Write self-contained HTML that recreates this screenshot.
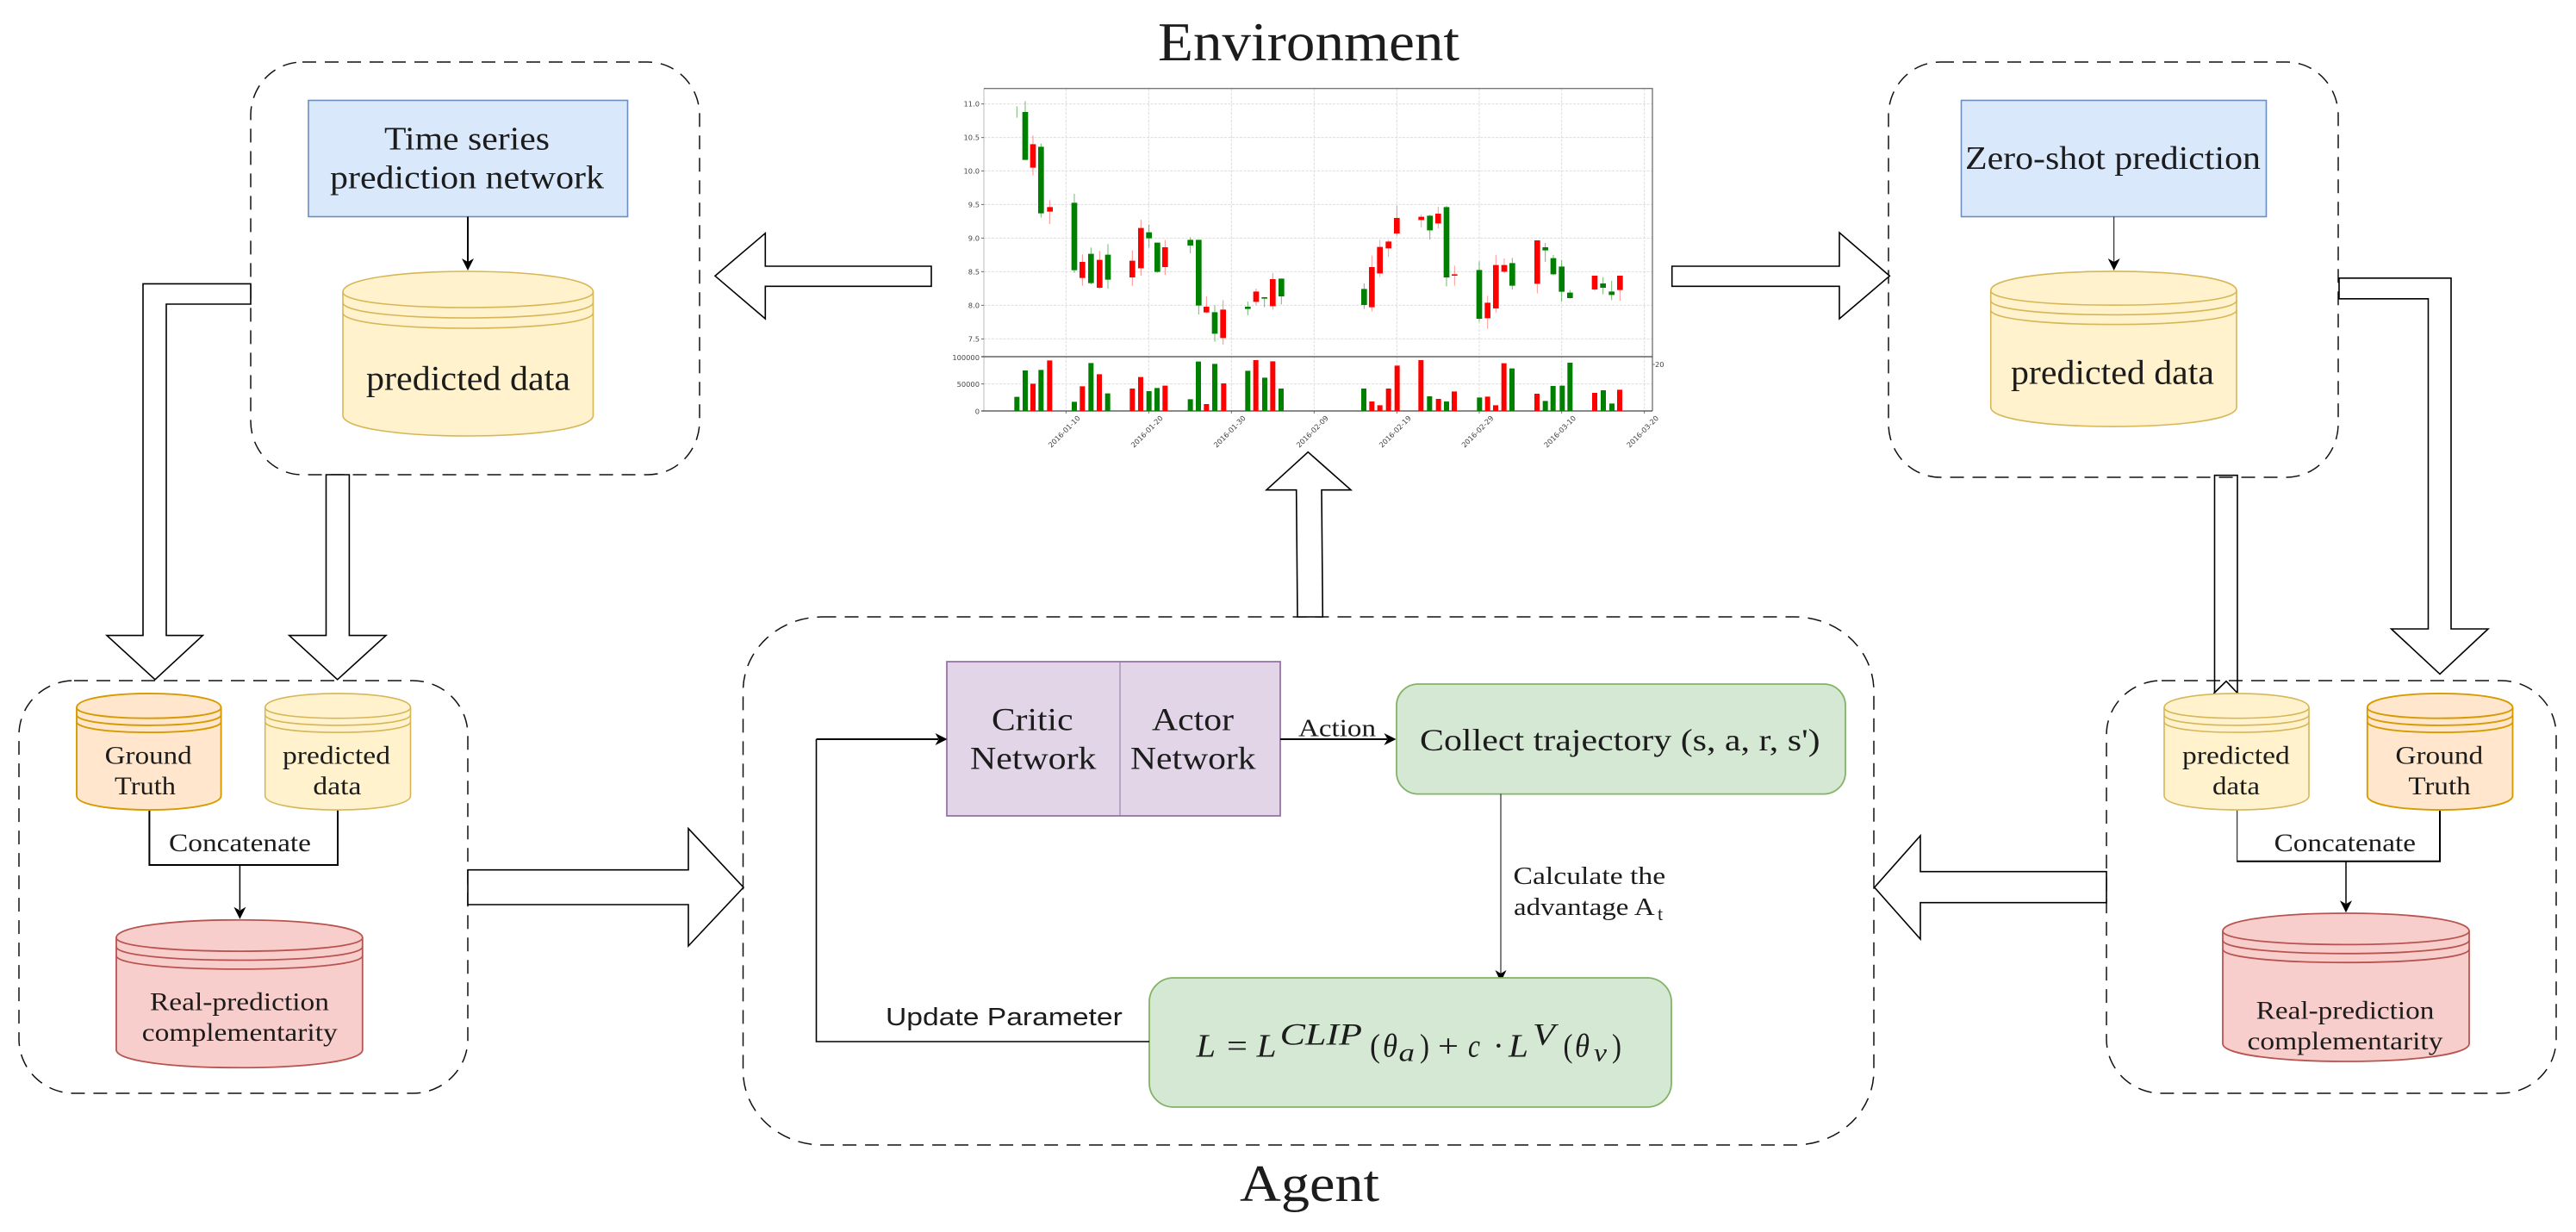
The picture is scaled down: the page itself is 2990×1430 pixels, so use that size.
<!DOCTYPE html>
<html lang="en">
<head>
<meta charset="utf-8">
<title>Environment and Agent diagram</title>
<style>
html,body{margin:0;padding:0;background:#fff;width:2990px;height:1430px;overflow:hidden}
svg{display:block}
text{font-family:"Liberation Serif",serif;fill:#1c1c1c}
.dash{fill:none;stroke:#111;stroke-width:1.5;stroke-dasharray:16 10}
.hol{fill:#fff;stroke:#000;stroke-width:1.6;stroke-linejoin:miter}
.ln{fill:none;stroke:#000;stroke-width:2}
.thin{fill:none;stroke:#000;stroke-width:1}
.yel path{fill:#fff2cc;stroke:#d6b656;stroke-width:1.6}
.org path{fill:#ffe6cc;stroke:#d79b00;stroke-width:1.9}
.red path{fill:#f8cecc;stroke:#b85450;stroke-width:1.8}
.rim{fill:none !important}
.tick{font-family:"DejaVu Sans",sans-serif;font-size:8.3px;fill:#444}
.grid{stroke:#d9d9d9;stroke-width:.9;stroke-dasharray:3 1.5;fill:none}
</style>
</head>
<body>
<svg width="2990" height="1430" viewBox="0 0 2990 1430" xmlns="http://www.w3.org/2000/svg">
<rect width="2990" height="1430" fill="#fff"/>

<!-- Dashed containers -->
<rect class="dash" x="291" y="72" width="521" height="479" rx="60" ry="62"/>
<rect class="dash" x="2192" y="72" width="522" height="482" rx="60" ry="62"/>
<rect class="dash" x="22" y="790" width="521" height="479" rx="64" ry="63"/>
<rect class="dash" x="2445" y="790" width="522" height="479" rx="64" ry="63"/>
<rect class="dash" x="862.5" y="716" width="1312.5" height="613" rx="92" ry="86"/>

<!-- Titles -->
<text x="1344" y="70" font-size="64" textLength="350" lengthAdjust="spacingAndGlyphs">Environment</text>
<text x="1439" y="1394" font-size="60" textLength="162" lengthAdjust="spacingAndGlyphs">Agent</text>

<!-- Chart -->
<g>
<path class="grid" d="M1142 120.7H1918M1142 159.7H1918M1142 198.3H1918M1142 237.3H1918M1142 276.3H1918M1142 315.3H1918M1142 354.3H1918M1142 393.3H1918M1142 445.7H1918"/>
<path class="grid" d="M1237.3 103V477M1333.3 103V477M1429.3 103V477M1525.3 103V477M1621.3 103V477M1717 103V477M1812.7 103V477M1908.7 103V477"/>
<path d="M1142 103V477" stroke="#bbb" stroke-width="1" fill="none"/>
<path d="M1142 102.7H1918V477" stroke="#777" stroke-width="1.4" fill="none"/>
<path d="M1139 414H1918" stroke="#444" stroke-width="1.2" fill="none"/>
<path d="M1139 477H1918" stroke="#444" stroke-width="1.2" fill="none"/>
<path d="M1139 120.7h3M1139 159.7h3M1139 198.3h3M1139 237.3h3M1139 276.3h3M1139 315.3h3M1139 354.3h3M1139 393.3h3M1139 445.7h3M1237.3 477v3M1333.3 477v3M1429.3 477v3M1525.3 477v3M1621.3 477v3M1717 477v3M1812.7 477v3M1908.7 477v3M1918 423h3" stroke="#555" stroke-width=".8" fill="none"/>

<g transform="translate(1100 90) scale(.33333)" fill="none">
<path stroke="#008000" stroke-width="3" opacity=".55" d="M241 100V140M270 82V120M325 230V488M441 405V680M499 592V720M558 580V735M701 512V593M730 575V680M845 556V612M874 565V825M930 793V920M1045 780V828M1103 765V800M1162 700V790"/>
<path stroke="#ff0000" stroke-width="3" opacity=".45" d="M297 202V340M355 427V510M469 616V725M529 604V735M643 602V725M673 495V690M757 566V687M901 762V820M959 775V930M1074 735V792M1132 681V808"/>
<path stroke="#008000" stroke-width="20" d="M270 120V287M325 241V473M441 436V671M499 614V716M558 617V704M701 539V560M730 575V677M845 565V585M874 565V794M930 817V892M1045 798V806M1103 765V770M1162 700V762"/>
<path stroke="#ff0000" stroke-width="20" d="M297 232V314M356 451V467M469 642V698M529 635V732M643 638V696M673 524V664M757 591V660M901 798V818M959 808V907M1074 745V781M1132 702V796"/>
<path stroke="#008000" stroke-width="18" d="M241 1162V1112M270 1162V1020M325 1162V1018M441 1162V1129M499 1162V994M557 1162V1100M701 1162V1092M729 1162V1081M845 1162V1120M873 1162V989M930 1162V997M1045 1162V1021M1104 1162V1045M1161 1162V1083"/>
<path stroke="#ff0000" stroke-width="18" d="M297 1162V1066M355 1162V985M469 1162V1075M528 1162V1033M643 1162V1083M672 1162V1043M757 1162V1073M901 1162V1137M961 1162V1065M1073 1162V984M1132 1162V988"/>
</g>
<g transform="translate(1500 90) scale(.33333)" fill="none">
<path stroke="#008000" stroke-width="3" opacity=".55" d="M250 717V806M479 478V564M537 447V727M651 640V850M766 628V738M881 576V642M909 618V688M938 636V780M967 740V770M1082 695V755M1112 708V775"/>
<path stroke="#ff0000" stroke-width="3" opacity=".4" d="M277 620V815M305 565V695M335 565V625M364 447V552M449 477V522M508 450V525M565 655V725M680 760V875M709 618V818M738 630V682M853 567V752M1053 690V743M1141 690V777"/>
<path stroke="#008000" stroke-width="20" d="M250 736V792M479 481V532M537 451V696M651 670V840M766 646V725M881 591V602M909 629V685M938 658V746M967 749V768M1082 717V732M1112 745V757"/>
<path stroke="#ff0000" stroke-width="20" d="M277 660V800M305 590V682M335 571V595M364 489V543M449 485V496M508 474V508M565 685V690M680 784V838M709 653V804M738 653V676M853 567V718M1053 690V738M1141 690V740"/>
<path stroke="#008000" stroke-width="18" d="M249 1162V1083M478 1162V1110M537 1162V1128M652 1162V1114M765 1162V1013M881 1162V1126M908 1162V1074M940 1162V1073M967 1162V993M1083 1162V1089M1113 1162V1135"/>
<path stroke="#ff0000" stroke-width="18" d="M277 1162V1128M305 1162V1141M335 1162V1083M365 1162V1003M448 1162V984M509 1162V1119M564 1162V1093M680 1162V1111M708 1162V1141M737 1162V995M852 1162V1101M1053 1162V1098M1140 1162V1087"/>
</g>

<g text-anchor="end">
<text class="tick" x="1137" y="123.7">11.0</text>
<text class="tick" x="1137" y="162.7">10.5</text>
<text class="tick" x="1137" y="201.3">10.0</text>
<text class="tick" x="1137" y="240.3">9.5</text>
<text class="tick" x="1137" y="279.3">9.0</text>
<text class="tick" x="1137" y="318.3">8.5</text>
<text class="tick" x="1137" y="357.3">8.0</text>
<text class="tick" x="1137" y="396.3">7.5</text>
<text class="tick" x="1137" y="418">100000</text>
<text class="tick" x="1137" y="449">50000</text>
<text class="tick" x="1137" y="480.5">0</text>
</g>
<text class="tick" x="1921" y="426">20</text>
<g text-anchor="middle">
<text class="tick" transform="translate(1237.3 503) rotate(-45)">2016-01-10</text>
<text class="tick" transform="translate(1333.3 503) rotate(-45)">2016-01-20</text>
<text class="tick" transform="translate(1429.3 503) rotate(-45)">2016-01-30</text>
<text class="tick" transform="translate(1525.3 503) rotate(-45)">2016-02-09</text>
<text class="tick" transform="translate(1621.3 503) rotate(-45)">2016-02-19</text>
<text class="tick" transform="translate(1717 503) rotate(-45)">2016-02-29</text>
<text class="tick" transform="translate(1812.7 503) rotate(-45)">2016-03-10</text>
<text class="tick" transform="translate(1908.7 503) rotate(-45)">2016-03-20</text>
</g>
</g>

<!-- Hollow block arrows -->
<polygon class="hol" points="1081,309 888.3,309 888.3,270.7 830,320.3 888.3,370 888.3,332.3 1081,332.3"/>
<polygon class="hol" points="1940.7,309 2135,309 2135,270 2193.3,320.3 2135,370 2135,332.3 1940.7,332.3"/>
<polygon class="hol" points="1506,716 1504.7,568.7 1470,568.7 1518.3,524.7 1568,568.7 1534,568.7 1535.3,716"/>
<polygon class="hol" points="291,329.4 166,329.4 166,737.6 124,737.6 180,788.8 235.3,737.6 193,737.6 193,353 291,353"/>
<polygon class="hol" points="378.5,551 378.5,737.6 335.7,737.6 391.7,788.8 448,737.6 405.4,737.6 405.4,551"/>
<polygon class="hol" points="2715,322.8 2845,322.8 2845,730 2888,730 2832,782.4 2775.6,730 2818.5,730 2818.5,346.8 2715,346.8"/>
<polygon class="hol" points="543,1009.7 799,1009.7 799,961.7 863,1030 799,1098 799,1050 543,1050"/>
<polygon class="hol" points="2445,1011.7 2229,1011.7 2229,970 2175.7,1030 2229,1090 2229,1047.7 2445,1047.7"/>
<path class="hol" d="M2570.5 805V551.7H2597V805" style="fill:none"/>
<path class="hol" d="M2569.4 805L2584 790.7L2597.5 805" style="fill:none"/>

<!-- Top-left block -->
<rect x="358" y="116.5" width="370.5" height="135" fill="#dae8fc" stroke="#6c8ebf" stroke-width="1.6"/>
<text x="446" y="173.6" font-size="38" textLength="192" lengthAdjust="spacingAndGlyphs">Time series</text>
<text x="383" y="218.5" font-size="38" textLength="318" lengthAdjust="spacingAndGlyphs">prediction network</text>
<path class="ln" d="M543 251.5V304"/>
<polygon points="543,314 536,300 543,304 550,300" fill="#000"/>
<g class="yel">
<path d="M398 339C398 307 688.5 307 688.5 339L688.5 482C688.5 514 398 514 398 482Z"/>
<path class="rim" d="M398 339C398 363 688.5 363 688.5 339M398 351C398 375 688.5 375 688.5 351M398 363C398 387 688.5 387 688.5 363"/>
</g>
<text x="425" y="452.5" font-size="40" textLength="237" lengthAdjust="spacingAndGlyphs">predicted data</text>

<!-- Top-right block -->
<rect x="2276.5" y="116.5" width="354" height="135" fill="#dae8fc" stroke="#6c8ebf" stroke-width="1.6"/>
<text x="2281" y="196" font-size="38" textLength="343" lengthAdjust="spacingAndGlyphs">Zero-shot prediction</text>
<path class="thin" d="M2453.7 251.5V304"/>
<polygon points="2453.7,314 2446.7,300 2453.7,304 2460.7,300" fill="#000"/>
<g class="yel">
<path d="M2310.7 337.4C2310.7 307.5 2596 307.5 2596 337.4L2596 472.6C2596 502.5 2310.7 502.5 2310.7 472.6Z"/>
<path class="rim" d="M2310.7 337.4C2310.7 359.8 2596 359.8 2596 337.4M2310.7 348.6C2310.7 371 2596 371 2596 348.6M2310.7 359.8C2310.7 382.2 2596 382.2 2596 359.8"/>
</g>
<text x="2334" y="445.5" font-size="40" textLength="236" lengthAdjust="spacingAndGlyphs">predicted data</text>

<!-- Bottom-left block -->
<path class="ln" d="M173.4 940V1004H392V940"/>
<path class="ln" style="stroke-width:1.5" d="M278.4 1004V1056"/>
<polygon points="278.4,1066.7 271.4,1052.7 278.4,1056.7 285.4,1052.7" fill="#000"/>
<g class="org">
<path d="M89 821.4C89 799.5 256.6 799.5 256.6 821.4L256.6 923.6C256.6 945.5 89 945.5 89 923.6Z"/>
<path class="rim" d="M89 821.4C89 837.8 256.6 837.8 256.6 821.4M89 829.6C89 846 256.6 846 256.6 829.6M89 837.8C89 854.2 256.6 854.2 256.6 837.8"/>
</g>
<g class="yel">
<path d="M307.7 821.4C307.7 799.5 476.5 799.5 476.5 821.4L476.5 923.6C476.5 945.5 307.7 945.5 307.7 923.6Z"/>
<path class="rim" d="M307.7 821.4C307.7 837.8 476.5 837.8 476.5 821.4M307.7 829.6C307.7 846 476.5 846 476.5 829.6M307.7 837.8C307.7 854.2 476.5 854.2 476.5 837.8"/>
</g>
<g class="red">
<path d="M135 1088.5C135 1060.8 420.8 1060.8 420.8 1088.5L420.8 1218.5C420.8 1246.2 135 1246.2 135 1218.5Z"/>
<path class="rim" d="M135 1088.5C135 1109.3 420.8 1109.3 420.8 1088.5M135 1098.9C135 1119.7 420.8 1119.7 420.8 1098.9M135 1109.3C135 1130.1 420.8 1130.1 420.8 1109.3"/>
</g>
<text x="121.7" y="886.7" font-size="30" textLength="101" lengthAdjust="spacingAndGlyphs">Ground</text>
<text x="133" y="922" font-size="30" textLength="71" lengthAdjust="spacingAndGlyphs">Truth</text>
<text x="328" y="886.7" font-size="30" textLength="125" lengthAdjust="spacingAndGlyphs">predicted</text>
<text x="363.4" y="922" font-size="30" textLength="56" lengthAdjust="spacingAndGlyphs">data</text>
<text x="196" y="988" font-size="30" textLength="165" lengthAdjust="spacingAndGlyphs">Concatenate</text>
<text x="174" y="1172.7" font-size="30" textLength="208" lengthAdjust="spacingAndGlyphs">Real-prediction</text>
<text x="164.8" y="1208" font-size="30" textLength="227" lengthAdjust="spacingAndGlyphs">complementarity</text>

<!-- Bottom-right block -->
<path class="thin" d="M2596.7 940V999.7"/>
<path class="ln" d="M2596.2 999.7H2832V940"/>
<path class="ln" style="stroke-width:1.5" d="M2723 1000V1049"/>
<polygon points="2723,1059.3 2716,1045.3 2723,1049.3 2730,1045.3" fill="#000"/>
<g class="yel">
<path d="M2512 821.4C2512 799.5 2680 799.5 2680 821.4L2680 923.6C2680 945.5 2512 945.5 2512 923.6Z"/>
<path class="rim" d="M2512 821.4C2512 837.8 2680 837.8 2680 821.4M2512 829.6C2512 846 2680 846 2680 829.6M2512 837.8C2512 854.2 2680 854.2 2680 837.8"/>
</g>
<g class="org">
<path d="M2747.8 821.4C2747.8 799.5 2916.5 799.5 2916.5 821.4L2916.5 923.6C2916.5 945.5 2747.8 945.5 2747.8 923.6Z"/>
<path class="rim" d="M2747.8 821.4C2747.8 837.8 2916.5 837.8 2916.5 821.4M2747.8 829.6C2747.8 846 2916.5 846 2916.5 829.6M2747.8 837.8C2747.8 854.2 2916.5 854.2 2916.5 837.8"/>
</g>
<g class="red">
<path d="M2580 1080.8C2580 1053.1 2866 1053.1 2866 1080.8L2866 1211.2C2866 1238.9 2580 1238.9 2580 1211.2Z"/>
<path class="rim" d="M2580 1080.8C2580 1101.6 2866 1101.6 2866 1080.8M2580 1091.2C2580 1112 2866 1112 2866 1091.2M2580 1101.6C2580 1122.4 2866 1122.4 2866 1101.6"/>
</g>
<text x="2533" y="886.7" font-size="30" textLength="124.8" lengthAdjust="spacingAndGlyphs">predicted</text>
<text x="2568" y="922" font-size="30" textLength="55" lengthAdjust="spacingAndGlyphs">data</text>
<text x="2780.4" y="886.7" font-size="30" textLength="101.8" lengthAdjust="spacingAndGlyphs">Ground</text>
<text x="2795.4" y="922" font-size="30" textLength="72.3" lengthAdjust="spacingAndGlyphs">Truth</text>
<text x="2639.6" y="988" font-size="30" textLength="164.4" lengthAdjust="spacingAndGlyphs">Concatenate</text>
<text x="2618.7" y="1182.7" font-size="30" textLength="206.7" lengthAdjust="spacingAndGlyphs">Real-prediction</text>
<text x="2608.5" y="1218" font-size="30" textLength="227" lengthAdjust="spacingAndGlyphs">complementarity</text>

<!-- Agent internals -->
<rect x="1099" y="768" width="387" height="179" fill="#e1d5e7" stroke="#9673a6" stroke-width="1.8"/>
<path d="M1300 768V947" stroke="#9673a6" stroke-width="1" fill="none"/>
<text x="1151" y="847.6" font-size="37" textLength="94.5" lengthAdjust="spacingAndGlyphs">Critic</text>
<text x="1126" y="892.7" font-size="37" textLength="146.5" lengthAdjust="spacingAndGlyphs">Network</text>
<text x="1337" y="847.6" font-size="37" textLength="95" lengthAdjust="spacingAndGlyphs">Actor</text>
<text x="1312" y="892.7" font-size="37" textLength="145.6" lengthAdjust="spacingAndGlyphs">Network</text>

<path class="ln" d="M1486 858H1610"/>
<polygon points="1620.5,858 1606.5,851 1610.5,858 1606.5,865" fill="#000"/>
<text x="1507" y="854.6" font-size="29" textLength="90" lengthAdjust="spacingAndGlyphs">Action</text>

<rect x="1621" y="794" width="521" height="127.6" rx="25" ry="25" fill="#d5e8d4" stroke="#82b366" stroke-width="1.8"/>
<text x="1648" y="871" font-size="36" textLength="464.6" lengthAdjust="spacingAndGlyphs">Collect trajectory (s, a, r, s')</text>

<path class="thin" d="M1742 921.6V1130"/>
<polygon points="1742,1140 1735.5,1126 1742,1130 1748.5,1126" fill="#000"/>
<text x="1756.5" y="1026" font-size="29" textLength="176.7" lengthAdjust="spacingAndGlyphs" fill="#333">Calculate the</text>
<text x="1757" y="1062" font-size="29" textLength="163.6" lengthAdjust="spacingAndGlyphs" fill="#333">advantage A</text>
<text x="1924" y="1068" font-size="22" fill="#333">t</text>

<rect x="1334" y="1135" width="606" height="150" rx="28" ry="28" fill="#d5e8d4" stroke="#82b366" stroke-width="1.8"/>
<g font-size="38">
<text x="1388.6" y="1226.7" font-style="italic" textLength="22.4" lengthAdjust="spacingAndGlyphs">L</text>
<text x="1424" y="1226.7" textLength="24" lengthAdjust="spacingAndGlyphs">=</text>
<text x="1458.6" y="1226.7" font-style="italic" textLength="23" lengthAdjust="spacingAndGlyphs">L</text>
<text x="1485.6" y="1212.7" font-style="italic" font-size="36" textLength="95.4" lengthAdjust="spacingAndGlyphs">CLIP</text>
<text x="1590" y="1226.7" textLength="12" lengthAdjust="spacingAndGlyphs">(</text>
<text x="1605" y="1226.7" font-style="italic" textLength="17" lengthAdjust="spacingAndGlyphs">θ</text>
<text x="1623.5" y="1231.7" font-style="italic" font-size="30" textLength="18.5" lengthAdjust="spacingAndGlyphs">a</text>
<text x="1648" y="1226.7" textLength="11" lengthAdjust="spacingAndGlyphs">)</text>
<text x="1669" y="1226.7" textLength="24" lengthAdjust="spacingAndGlyphs">+</text>
<text x="1704" y="1226.7" font-style="italic" textLength="14" lengthAdjust="spacingAndGlyphs">c</text>
<text x="1733" y="1226.7">·</text>
<text x="1751" y="1226.7" font-style="italic" textLength="23" lengthAdjust="spacingAndGlyphs">L</text>
<text x="1779" y="1212.7" font-style="italic" font-size="36" textLength="26" lengthAdjust="spacingAndGlyphs">V</text>
<text x="1814.5" y="1226.7" textLength="11" lengthAdjust="spacingAndGlyphs">(</text>
<text x="1828" y="1226.7" font-style="italic" textLength="17" lengthAdjust="spacingAndGlyphs">θ</text>
<text x="1850" y="1231.7" font-style="italic" font-size="30" textLength="15" lengthAdjust="spacingAndGlyphs">v</text>
<text x="1871" y="1226.7" textLength="11" lengthAdjust="spacingAndGlyphs">)</text>
</g>

<path d="M1334 1209H947.5V858" stroke="#000" stroke-width="1.6" fill="none"/>
<path class="ln" d="M947.5 858H1089"/>
<polygon points="1099.5,858 1085.5,851 1089.5,858 1085.5,865" fill="#000"/>
<text x="1028" y="1190" font-size="29" textLength="274.8" lengthAdjust="spacingAndGlyphs" style="font-family:'Liberation Sans',sans-serif">Update Parameter</text>
</svg>
</body>
</html>
